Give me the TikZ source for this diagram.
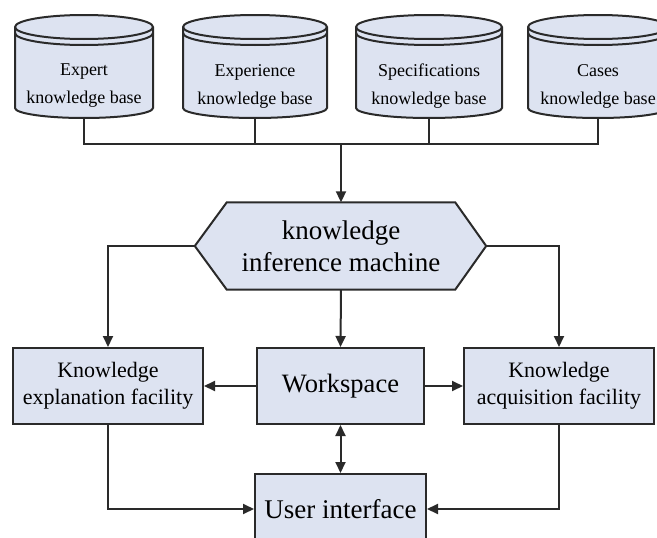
\documentclass[tikz,border=0pt]{standalone}
\usepackage{fontspec}
\setmainfont{Liberation Serif}
\usepackage{tikz}
\usetikzlibrary{arrows.meta,positioning,backgrounds}
\usepackage{xcolor}
\definecolor{kfill}{HTML}{DDE3F1}
\definecolor{kline}{HTML}{2A2A2A}

% knowledge base drum: name, centre x, half width, label
\newcommand{\kbase}[4]{%
  \draw[drum] (#2-#3,27) -- (#2-#3,108)
    arc[start angle=180, end angle=0, x radius=#3, y radius=10]
    -- (#2+#3,27)
    arc[start angle=0, end angle=-180, x radius=#3, y radius=12] -- cycle;
  \draw[drum, fill=none] (#2-#3,27) arc[start angle=180, end angle=0, x radius=#3, y radius=12];
  \draw[drum, fill=none] (#2-#3,33) arc[start angle=180, end angle=0, x radius=#3, y radius=12];
  \node[drumtext, minimum width=2*#3] (#1) at (#2,86) {#4};
}

\begin{document}
\begin{tikzpicture}[x=1pt, y=-1pt,
  drum/.style={draw=kline, fill=kfill, line width=2pt},
  drumtext/.style={inner sep=0pt, minimum height=64, align=center,
    font=\fontsize{18}{28}\selectfont},
  box/.style={draw=kline, fill=kfill, line width=2pt, inner sep=0pt,
    minimum height=76, align=center, font=\fontsize{22}{27}\selectfont},
  wire/.style={draw=kline, line width=2pt},
  arr/.style={wire, -{Triangle[length=11pt, width=10pt]}},
  twoway/.style={wire, {Triangle[length=11pt, width=10pt]}-{Triangle[length=11pt, width=10pt]}},
  node distance=52pt]
\useasboundingbox (0,0) rectangle (657,538);
\clip (0,0) rectangle (657,538);

% knowledge bases
\kbase{expert}{84}{69}{Expert\\knowledge base}
\kbase{exper}{255}{72}{Experience\\knowledge base}
\kbase{spec}{429}{73}{Specifications\\knowledge base}
\kbase{cases}{598}{70}{Cases\\knowledge base}

% inference machine
\node[inner sep=0pt, minimum width=228, minimum height=87, align=center,
  font=\fontsize{27}{32}\selectfont] (infer) at (341,246) {knowledge\\inference machine};
\begin{scope}[on background layer]
  \draw[drum] (infer.north west) -- (infer.north east)
    -- ([xshift=31pt]infer.east) coordinate (tipR)
    -- (infer.south east) -- (infer.south west)
    -- ([xshift=-32pt]infer.west) coordinate (tipL) -- cycle;
\end{scope}

% lower boxes
\node[box, minimum width=167, font=\fontsize{26.5}{30}\selectfont] (work) at (340.5,386) {Workspace};
\node[box, minimum width=190, left=52pt of work] (explain) {Knowledge\\explanation facility};
\node[box, minimum width=190, right=38pt of work] (acquire) {Knowledge\\acquisition facility};
\node[box, minimum width=171, minimum height=70, font=\fontsize{27}{30}\selectfont,
  below=48pt of work] (ui) {User interface};

% connectors
\coordinate (bus) at (infer.north |- 0,144);
\draw[wire] (expert.south) |- (bus) -| (cases.south);
\draw[wire] (exper.south) -- (exper.south |- bus);
\draw[wire] (spec.south) -- (spec.south |- bus);
\draw[arr] (bus) -- (infer.north);
\draw[arr] (tipL) -| (explain.north);
\draw[arr] (tipR) -| (acquire.north);
\draw[arr] (infer.south) -- (work.north);
\draw[arr] (work.west) -- (explain.east);
\draw[arr] (work.east) -- (acquire.west);
\draw[twoway] (work.south) -- (ui.north);
\draw[arr] (explain.south) |- (ui.west);
\draw[arr] (acquire.south) |- (ui.east);
\end{tikzpicture}
\end{document}
